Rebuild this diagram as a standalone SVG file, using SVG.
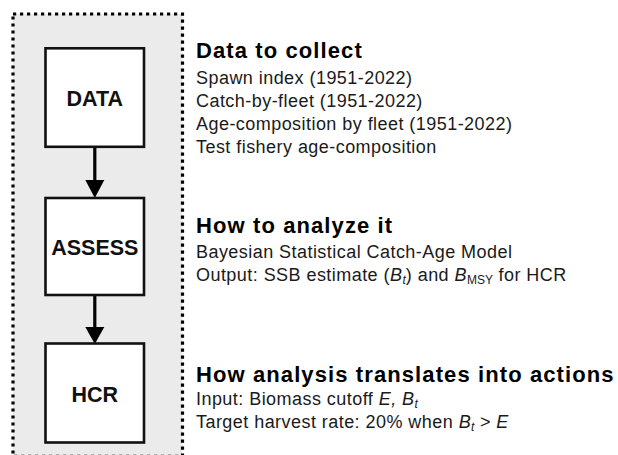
<svg xmlns="http://www.w3.org/2000/svg" width="618" height="455" viewBox="0 0 618 455">
<style>
.frame{fill:#ebebeb;stroke:#000;stroke-width:3.2;stroke-dasharray:3.2 3.8}
.box{fill:#fff;stroke:#111;stroke-width:2.6}
.lbl{font-family:"Liberation Sans",Arial,sans-serif;font-weight:bold;font-size:21.5px;fill:#111;text-anchor:middle}
.hd{font-family:"Liberation Sans",Arial,sans-serif;font-weight:bold;font-size:22px;letter-spacing:1.1px;fill:#000}
.tx{font-family:"Liberation Sans",Arial,sans-serif;font-size:18px;letter-spacing:0.45px;fill:#1a1a1a}
.it{font-style:italic}
.sub{font-size:12px;letter-spacing:0}
.conn line{stroke:#000;stroke-width:3.2}
.conn polygon{fill:#000}
</style>
<rect class="frame" x="13" y="14" width="169.5" height="442.3"/>
<g class="conn" id="connectors">
<line x1="94.8" y1="147" x2="94.8" y2="184"/>
<polygon points="85.3,180 104.3,180 94.8,198"/>
<line x1="94.8" y1="295" x2="94.8" y2="331"/>
<polygon points="85.3,327 104.3,327 94.8,344"/>
</g>
<g id="node-data">
<rect class="box" x="45.5" y="48.3" width="98.5" height="98.5"/>
<text class="lbl" x="94.8" y="106">DATA</text>
</g>
<g id="node-assess">
<rect class="box" x="45.5" y="198" width="98.5" height="97"/>
<text class="lbl" x="94.8" y="254.5">ASSESS</text>
</g>
<g id="node-hcr">
<rect class="box" x="45.5" y="343.5" width="98.5" height="99"/>
<text class="lbl" x="94.8" y="401.5">HCR</text>
</g>
<g id="text-data">
<text class="hd" x="196" y="58">Data to collect</text>
<text class="tx" x="196" y="84">Spawn index (1951-2022)</text>
<text class="tx" x="196" y="107">Catch-by-fleet (1951-2022)</text>
<text class="tx" x="196" y="130">Age-composition by fleet (1951-2022)</text>
<text class="tx" x="196" y="153">Test fishery age-composition</text>
</g>
<g id="text-assess">
<text class="hd" x="196" y="233">How to analyze it</text>
<text class="tx" x="196" y="258">Bayesian Statistical Catch-Age Model</text>
<text class="tx" x="196" y="281">Output: SSB estimate (<tspan class="it">B</tspan><tspan class="it sub" dy="3">t</tspan><tspan dy="-3">) and </tspan><tspan class="it">B</tspan><tspan class="sub" dy="3">MSY</tspan><tspan dy="-3"> for HCR</tspan></text>
</g>
<g id="text-hcr">
<text class="hd" x="196" y="382">How analysis translates into actions</text>
<text class="tx" x="196" y="405">Input: Biomass cutoff <tspan class="it">E, B</tspan><tspan class="it sub" dy="3">t</tspan></text>
<text class="tx" x="196" y="428">Target harvest rate: 20% when <tspan class="it">B</tspan><tspan class="it sub" dy="3">t</tspan><tspan dy="-3"> &gt; </tspan><tspan class="it">E</tspan></text>
</g>
</svg>
